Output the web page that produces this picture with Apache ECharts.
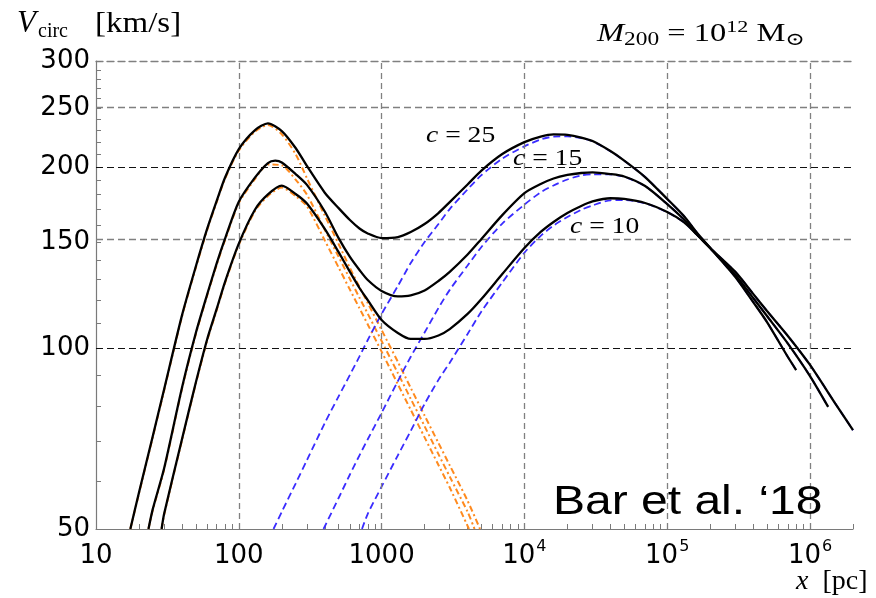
<!DOCTYPE html>
<html>
<head>
<meta charset="utf-8">
<title>Circular velocity: soliton + NFW halo</title>
<script src="https://cdn.jsdelivr.net/npm/echarts@6/dist/echarts.min.js"></script>
<style>
  html, body { margin: 0; padding: 0; background: #fff; }
  #chart { width: 876px; height: 598px; }
</style>
</head>
<body>
<div id="chart"></div>
<script>
// Circular velocity curves [x in pc, V in km/s] for M200 = 1e12 Msun.
// Total (soliton + halo), NFW halo alone and soliton alone, for c = 25, 15, 10.
const totalC25 = [[17.4,50],[20,57.5],[25,71.4],[30,85.4],[40,113.3],[50,136.6],[60,157.7],[70,175.6],[80,191.9],[100,214.1],[130,230.3],[160,236.3],[200,229.4],[250,215.0],[300,200.7],[400,181.2],[500,170.8],[600,163.2],[700,158.0],[800,155.0],[1000,152.3],[1300,152.9],[1600,155.9],[2000,160.7],[2500,167.6],[3000,174.8],[4000,187.0],[5000,197.2],[7000,210.1],[1e4,219.9],[1.3e4,224.6],[1.6e4,226.5],[2e4,226.1],[2.5e4,223.8],[3e4,220.8],[4e4,212.5],[5e4,204.9],[7e4,192.4],[1e5,176.9],[1.3e5,166.0],[1.6e5,155.9],[2e5,146.6],[3e5,131.2],[4e5,119.2],[5e5,110.4],[7e5,96.6],[8e5,91.9]];
const totalC15 = [[23.3,50],[25,54.0],[30,63.1],[40,85.9],[50,105.9],[60,122.7],[70,138.2],[80,151.8],[100,175.0],[130,192.1],[160,203.0],[180,204.8],[200,203.4],[250,194.6],[300,186.7],[400,168.6],[500,152.3],[600,141.7],[700,134.8],[800,129.7],[1000,124.4],[1300,121.8],[1600,122.3],[2000,124.6],[2500,129.2],[3000,133.8],[4000,143.0],[5000,151.8],[7000,166.3],[1e4,180.9],[1.3e4,187.3],[1.6e4,191.3],[2e4,193.9],[2.5e4,195.4],[3e4,195.9],[4e4,194.6],[5e4,192.8],[7e4,185.9],[1e5,173.5],[1.3e5,163.8],[1.6e5,154.7],[2e5,146.6],[3e5,132.2],[4e5,121.1],[5e5,113.0],[7e5,101.7],[1e6,89.8],[1.34e6,79.8]];
const totalC10 = [[28.8,50],[30,53.0],[40,70.5],[50,87.6],[60,103.3],[70,116.1],[80,128.7],[100,149.1],[130,169.9],[160,180.0],[200,186.1],[250,180.3],[300,173.8],[400,157.7],[500,144.3],[600,133.8],[700,125.8],[800,120.1],[1000,111.3],[1300,105.9],[1600,103.5],[2000,103.5],[2500,104.9],[3000,107.5],[4000,113.9],[5000,120.6],[7000,132.7],[1e4,146.6],[1.3e4,155.9],[1.6e4,162.0],[2e4,167.6],[2.5e4,172.2],[3e4,175.2],[4e4,177.4],[5e4,176.9],[7e4,174.2],[1e5,168.3],[1.3e5,162.0],[1.6e5,154.7],[2e5,146.6],[3e5,133.8],[4e5,123.0],[5e5,115.2],[7e5,104.7],[1e6,93.7],[1.5e6,80.9],[2e6,73.0]];

const haloC25 = [[175,50],[200,53.4],[250,59.5],[300,65.1],[400,75.0],[500,83.1],[600,90.2],[700,96.8],[800,103.1],[1000,113.9],[1300,126.8],[1600,138.4],[2000,150.0],[2500,160.7],[3000,170.2],[4000,183.5],[5000,193.8],[7000,206.5],[1e4,216.4],[1.3e4,222.1],[1.6e4,224.6],[2e4,224.8],[2.5e4,223.3],[3e4,220.6],[4e4,212.4],[5e4,204.8],[7e4,192.4],[1e5,176.9],[1.3e5,166.0],[1.6e5,155.9],[2e5,146.6],[3e5,131.2],[4e5,119.2],[5e5,110.4],[7e5,96.6],[8e5,91.9]];
const haloC15 = [[392,50],[500,56.3],[600,61.6],[700,66.3],[800,70.5],[1000,78.0],[1300,88.1],[1600,96.7],[2000,106.1],[2500,116.5],[3000,124.9],[4000,137.1],[5000,147.2],[7000,161.0],[1e4,173.1],[1.3e4,181.5],[1.6e4,186.3],[2e4,190.6],[2.5e4,193.6],[3e4,194.4],[4e4,194.3],[5e4,192.6],[7e4,185.8],[1e5,173.5],[1.3e5,163.8],[1.6e5,154.7],[2e5,146.6],[3e5,132.2],[4e5,121.1],[5e5,113.0],[7e5,101.7],[1e6,89.8],[1.34e6,79.8]];
const haloC10 = [[729,50],[800,53.0],[1000,58.8],[1300,66.3],[1600,72.8],[2000,80.7],[2500,88.5],[3000,94.5],[4000,105.5],[5000,115.0],[7000,128.5],[1e4,144.0],[1.3e4,153.6],[1.6e4,159.8],[2e4,165.1],[2.5e4,169.7],[3e4,172.6],[4e4,176.0],[5e4,176.2],[7e4,174.0],[1e5,168.2],[1.3e5,162.0],[1.6e5,154.7],[2e5,146.6],[3e5,133.8],[4e5,123.0],[5e5,115.2],[7e5,104.7],[1e6,93.7],[1.5e6,80.9],[2e6,73.0]];

const solC25 = [[17.4,50],[20,57.3],[25,71.1],[30,85.0],[40,112.8],[50,136.0],[60,157.0],[70,174.8],[80,191.0],[100,213.0],[130,229.0],[160,234.8],[200,226.5],[250,210.0],[300,191.5],[400,166.0],[500,148.9],[600,135.8],[700,126.3],[800,118.8],[1000,107.1],[1300,94.8],[1600,85.8],[2000,77.2],[2500,69.5],[3000,63.8],[4000,55.7],[4890,50]];
const solC15 = [[23.3,50],[25,53.8],[30,62.8],[40,85.5],[50,105.4],[60,122.1],[70,137.5],[80,151.0],[100,174.1],[130,191.0],[160,201.8],[200,201.2],[250,190.5],[300,179.8],[400,157.2],[500,141.8],[600,130.2],[700,121.2],[800,114.0],[1000,102.7],[1300,90.8],[1600,82.3],[2000,74.1],[2500,66.6],[3000,61.1],[4000,53.4],[4474,50]];
const solC10 = [[28.8,50],[30,52.8],[40,70.2],[50,87.2],[60,102.8],[70,115.5],[80,128.1],[100,148.4],[130,169.0],[160,179.0],[200,184.8],[250,178.8],[300,172.0],[400,150.9],[500,136.1],[600,125.0],[700,116.4],[800,109.4],[1000,98.6],[1300,87.0],[1600,78.9],[2000,71.0],[2500,63.9],[3000,58.6],[4093,50]];

// Axis ranges and ticks (data units)
const xRange = [10, 2e6];
const vRange = [50, 300];
const xMajorTicks = [10, 100, 1000, 1e4, 1e5, 1e6];
const vMajorTicks = [50, 100, 150, 200, 250, 300];
const vDarkGrid = [100, 200];
const vGreyGrid = [150, 250];
const xGrid = [100, 1000, 1e4, 1e5, 1e6];

const L = Math.log10;
const toLog = arr => arr.map(([x, v]) => [L(x), L(v)]);

// minor ticks: 2..9 per decade on x, every 10 km/s on V
const xMinorTicks = [];
for (let d = 10; d < xRange[1]; d *= 10) {
  for (let k = 1; k <= 9; k++) { const t = k * d; if (t <= xRange[1]) xMinorTicks.push(L(t)); }
}
const vMinorTicks = [];
for (let v = vRange[0]; v <= vRange[1]; v += 10) vMinorTicks.push(L(v));

const chart = echarts.init(document.getElementById('chart'), null, { renderer: 'canvas' });

const tickFont = '"DejaVu Sans", sans-serif';
const serif = '"Liberation Serif", "DejaVu Serif", serif';
const axisGrey = '#7a7a7a';
const gridGrey = '#808080';

function xLabel(val) {
  const p = Math.round(val);
  if (p <= 3) return '{b|' + Math.pow(10, p) + '}';
  return '{b|10}{s|' + p + '}';
}

const gridLines = [];
xGrid.forEach(x => gridLines.push({ xAxis: L(x), lineStyle: { color: gridGrey, type: [6, 4], width: 1.3 } }));
vGreyGrid.forEach(v => gridLines.push({ yAxis: L(v), lineStyle: { color: gridGrey, type: [7, 4], width: 1.3 } }));
vDarkGrid.forEach(v => gridLines.push({ yAxis: L(v), lineStyle: { color: '#111', type: [7, 4], width: 1.2 } }));

function curve(name, data, style, z) {
  return {
    name, type: 'line', data: toLog(data), showSymbol: false, smooth: 0.25,
    clip: true, z, silent: true, animation: false,
    lineStyle: style
  };
}

const black = { color: '#000', width: 2.3, type: 'solid' };
const blue = { color: '#3a2cff', width: 1.8, type: [7, 4] };
const orange = { color: '#ff8a1e', width: 2, type: [6, 3, 2, 3] };

const option = {
  backgroundColor: '#fff',
  animation: false,
  grid: { left: 96, right: 23, top: 61, bottom: 69 },
  xAxis: [
    {
      type: 'value', min: L(xRange[0]), max: L(xRange[1]),
      axisLine: { show: true, lineStyle: { color: axisGrey, width: 1.2 } },
      axisTick: { show: true, inside: true, length: 5, customValues: xMinorTicks, lineStyle: { color: axisGrey, width: 1 } },
      axisLabel: {
        customValues: xMajorTicks.map(L), formatter: xLabel, margin: 10,
        color: '#000',
        rich: {
          b: { fontFamily: tickFont, fontSize: 26, color: '#000', lineHeight: 30, verticalAlign: 'bottom' },
          s: { fontFamily: tickFont, fontSize: 16, color: '#000', lineHeight: 16, verticalAlign: 'top', padding: [0, 0, 0, 1] }
        }
      },
      splitLine: { show: false }
    },
    {
      // top edge: dashed grid line at V = 300
      type: 'value', position: 'top', min: L(xRange[0]), max: L(xRange[1]),
      axisLine: { show: true, lineStyle: { color: gridGrey, width: 1.3, type: [7, 4] } },
      axisTick: { show: false }, axisLabel: { show: false }, splitLine: { show: false }
    }
  ],
  yAxis: {
    type: 'value', min: L(vRange[0]), max: L(vRange[1]),
    axisLine: { show: true, lineStyle: { color: axisGrey, width: 1.2 } },
    axisTick: { show: true, inside: true, length: 5, customValues: vMinorTicks, lineStyle: { color: axisGrey, width: 1 } },
    axisLabel: {
      customValues: vMajorTicks.map(L), margin: 6,
      formatter: v => String(Math.round(Math.pow(10, v))),
      fontFamily: tickFont, fontSize: 26, color: '#000'
    },
    splitLine: { show: false }
  },
  series: [
    {
      type: 'line', data: [], z: 1, silent: true,
      markLine: { silent: true, symbol: ['none', 'none'], label: { show: false }, animation: false, data: gridLines }
    },
    curve('soliton c=10', solC10, orange, 3),
    curve('soliton c=15', solC15, orange, 3),
    curve('soliton c=25', solC25, orange, 3),
    curve('NFW c=10', haloC10, blue, 4),
    curve('NFW c=15', haloC15, blue, 4),
    curve('NFW c=25', haloC25, blue, 4),
    curve('total c=10', totalC10, black, 5),
    curve('total c=15', totalC15, black, 5),
    curve('total c=25', totalC25, black, 5)
  ],
  graphic: [
    // y-axis title: V_circ [km/s]
    { type: 'text', x: 17, y: 24, z: 10, style: { text: 'V', font: 'italic 31px ' + serif, fill: '#000', verticalAlign: 'middle' } },
    { type: 'text', x: 38, y: 32, z: 10, style: { text: 'circ', font: '20px ' + serif, fill: '#000', verticalAlign: 'middle' } },
    { type: 'text', x: 95, y: 24, z: 10, scaleX: 1.1, style: { text: '[km/s]', font: '30px ' + serif, fill: '#000', verticalAlign: 'middle' } },
    // halo mass
    {
      type: 'text', x: 597, y: 34, z: 10, scaleX: 1.3, originX: 0,
      style: {
        text: '{mi|M}{sub|200}{n| = 10}{sup|12}{n| M}{sub|\u2299}', verticalAlign: 'middle', fill: '#000',
        rich: {
          mi: { font: 'italic 25px ' + serif, lineHeight: 30, verticalAlign: 'middle' },
          n: { font: '25px ' + serif, lineHeight: 30, verticalAlign: 'middle' },
          sub: { font: '18px ' + serif, lineHeight: 18, verticalAlign: 'bottom' },
          sup: { font: '17px ' + serif, lineHeight: 17, verticalAlign: 'top' }
        }
      }
    },
    // concentration labels
    { type: 'text', x: 426, y: 136, z: 10, scaleX: 1.2, originX: 0, style: { text: '{i|c}{n| = 25}', verticalAlign: 'middle', rich: { i: { font: 'italic 23px ' + serif }, n: { font: '23px ' + serif } } } },
    { type: 'text', x: 513, y: 159, z: 10, scaleX: 1.2, originX: 0, style: { text: '{i|c}{n| = 15}', verticalAlign: 'middle', rich: { i: { font: 'italic 23px ' + serif }, n: { font: '23px ' + serif } } } },
    { type: 'text', x: 570, y: 227, z: 10, scaleX: 1.2, originX: 0, style: { text: '{i|c}{n| = 10}', verticalAlign: 'middle', rich: { i: { font: 'italic 23px ' + serif }, n: { font: '23px ' + serif } } } },
    // x-axis title
    { type: 'text', x: 796, y: 582, z: 10, style: { text: '{i|x}{n|\u2002[pc]}', verticalAlign: 'middle', rich: { i: { font: 'italic 28px ' + serif }, n: { font: '28px ' + serif } } } },
    // citation
    { type: 'text', x: 553, y: 503, z: 10, scaleX: 1.2, originX: 0, style: { text: 'Bar et al. \u201818', font: '40px "Liberation Sans", sans-serif', fill: '#000', verticalAlign: 'middle' } }
  ]
};

chart.setOption(option);
</script>
</body>
</html>
